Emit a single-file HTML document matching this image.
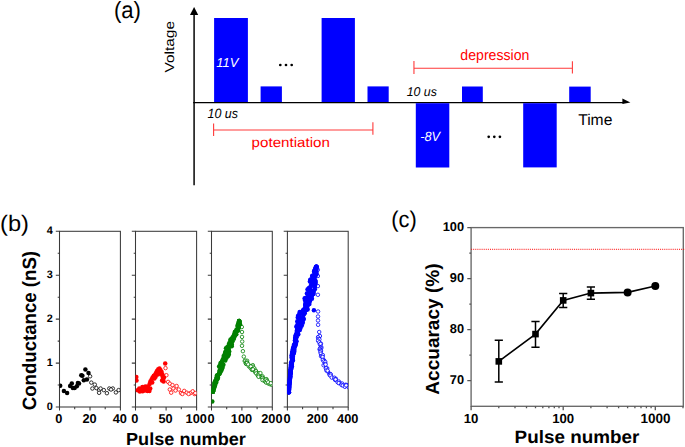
<!DOCTYPE html>
<html><head><meta charset="utf-8"><style>
html,body{margin:0;padding:0;background:#fff;width:685px;height:447px;overflow:hidden;font-family:"Liberation Sans",sans-serif;}
svg{display:block;}
</style></head><body>
<svg width="685" height="447" viewBox="0 0 685 447" text-rendering="geometricPrecision"><text id="t1" x="113.96" y="17.91" font-size="23.52" font-family="Liberation Sans, sans-serif" text-anchor="start" font-weight="normal" font-style="normal" fill="#000" textLength="27.03" lengthAdjust="spacingAndGlyphs">(a)</text>
<text id="t2" x="173.54" y="72.42" font-size="13.11" font-family="Liberation Sans, sans-serif" text-anchor="start" font-weight="normal" font-style="normal" fill="#000" textLength="51.41" lengthAdjust="spacingAndGlyphs" transform="rotate(-90 173.54 72.42)">Voltage</text>
<line x1="194.1" y1="185.2" x2="194.1" y2="13" stroke="#222" stroke-width="1.7"/>
<path d="M194.1 6.9 L198.2 14.9 L190 14.9 Z" fill="#000"/>
<line x1="193.2" y1="102.6" x2="624" y2="102.6" stroke="#000" stroke-width="1.4"/>
<path d="M630.4 102.6 L622.4 98.5 L622.4 104.1 Z" fill="#000"/>
<rect x="214.1" y="18" width="33.8" height="84.0" fill="#0000ff"/>
<rect x="260.6" y="86.4" width="21.3" height="15.6" fill="#0000ff"/>
<rect x="321.6" y="18" width="33.3" height="84.0" fill="#0000ff"/>
<rect x="367.5" y="86.4" width="21.2" height="15.6" fill="#0000ff"/>
<rect x="462" y="86.5" width="20.8" height="15.5" fill="#0000ff"/>
<rect x="569.2" y="86.6" width="21.5" height="15.4" fill="#0000ff"/>
<rect x="415.8" y="103.2" width="33.5" height="64.3" fill="#0000ff"/>
<rect x="523.2" y="103.2" width="33.5" height="64.2" fill="#0000ff"/>
<text id="t3" x="216.18" y="66.64" font-size="12.97" font-family="Liberation Sans, sans-serif" text-anchor="start" font-weight="normal" font-style="italic" fill="#fff" textLength="22.16" lengthAdjust="spacingAndGlyphs">11V</text>
<text id="t4" x="420.3" y="140.6" font-size="13.42" font-family="Liberation Sans, sans-serif" text-anchor="start" font-weight="normal" font-style="italic" fill="#fff" textLength="19.83" lengthAdjust="spacingAndGlyphs">-8V</text>
<circle cx="280.3" cy="65" r="1.35" fill="#000"/>
<circle cx="286" cy="65" r="1.35" fill="#000"/>
<circle cx="291.7" cy="65" r="1.35" fill="#000"/>
<circle cx="488.7" cy="136.8" r="1.35" fill="#000"/>
<circle cx="494.3" cy="136.8" r="1.35" fill="#000"/>
<circle cx="499.9" cy="136.8" r="1.35" fill="#000"/>
<text id="t5" x="207.56" y="117.79" font-size="13.48" font-family="Liberation Sans, sans-serif" text-anchor="start" font-weight="normal" font-style="italic" fill="#000" textLength="30.46" lengthAdjust="spacingAndGlyphs">10 us</text>
<text id="t6" x="406.63" y="95.56" font-size="12.78" font-family="Liberation Sans, sans-serif" text-anchor="start" font-weight="normal" font-style="italic" fill="#000" textLength="30.24" lengthAdjust="spacingAndGlyphs">10 us</text>
<path d="M213.6 130 H372.9 M213.6 123.4 V136 M372.9 122.2 V134.8" stroke="#ff3a3a" stroke-width="1.1" fill="none"/>
<path d="M413.95 68.3 H572.4 M413.95 61 V73.9 M572.4 61.2 V73.4" stroke="#ff3a3a" stroke-width="1.1" fill="none"/>
<text id="t7" x="251.64" y="147.47" font-size="13.73" font-family="Liberation Sans, sans-serif" text-anchor="start" font-weight="normal" font-style="normal" fill="#ff0000" textLength="78.22" lengthAdjust="spacingAndGlyphs">potentiation</text>
<text id="t8" x="460.37" y="60.1" font-size="14.82" font-family="Liberation Sans, sans-serif" text-anchor="start" font-weight="normal" font-style="normal" fill="#ff0000" textLength="69.02" lengthAdjust="spacingAndGlyphs">depression</text>
<text id="t9" x="578.18" y="124.86" font-size="15.66" font-family="Liberation Sans, sans-serif" text-anchor="start" font-weight="normal" font-style="normal" fill="#000" textLength="34.18" lengthAdjust="spacingAndGlyphs">Time</text>
<text id="t10" x="0.05" y="230.6" font-size="22.51" font-family="Liberation Sans, sans-serif" text-anchor="start" font-weight="normal" font-style="normal" fill="#000" textLength="28.93" lengthAdjust="spacingAndGlyphs">(b)</text>
<rect x="59.5" y="231.3" width="60.9" height="175.7" fill="none" stroke="#3a3a3a" stroke-width="1.05"/>
<path d="M55.8 407.0 H59.5 M57.7 385.0 H59.5 M55.8 363.1 H59.5 M57.7 341.1 H59.5 M55.8 319.1 H59.5 M57.7 297.2 H59.5 M55.8 275.2 H59.5 M57.7 253.3 H59.5 M55.8 231.3 H59.5 M59.5 407.0 V410.6 M74.7 407.0 V409.2 M90.0 407.0 V410.6 M105.2 407.0 V409.2 M120.4 407.0 V410.6 " stroke="#3a3a3a" stroke-width="1.05" fill="none"/>
<rect x="135.5" y="231.3" width="61.1" height="175.7" fill="none" stroke="#3a3a3a" stroke-width="1.05"/>
<path d="M131.8 407.0 H135.5 M133.7 385.0 H135.5 M131.8 363.1 H135.5 M133.7 341.1 H135.5 M131.8 319.1 H135.5 M133.7 297.2 H135.5 M131.8 275.2 H135.5 M133.7 253.3 H135.5 M131.8 231.3 H135.5 M135.5 407.0 V410.6 M150.8 407.0 V409.2 M166.1 407.0 V410.6 M181.3 407.0 V409.2 M196.6 407.0 V410.6 " stroke="#3a3a3a" stroke-width="1.05" fill="none"/>
<rect x="211.5" y="231.3" width="60.8" height="175.7" fill="none" stroke="#3a3a3a" stroke-width="1.05"/>
<path d="M207.8 407.0 H211.5 M209.7 385.0 H211.5 M207.8 363.1 H211.5 M209.7 341.1 H211.5 M207.8 319.1 H211.5 M209.7 297.2 H211.5 M207.8 275.2 H211.5 M209.7 253.3 H211.5 M207.8 231.3 H211.5 M211.5 407.0 V410.6 M226.7 407.0 V409.2 M241.9 407.0 V410.6 M257.1 407.0 V409.2 M272.3 407.0 V410.6 " stroke="#3a3a3a" stroke-width="1.05" fill="none"/>
<rect x="287.4" y="231.3" width="60.8" height="175.7" fill="none" stroke="#3a3a3a" stroke-width="1.05"/>
<path d="M283.7 407.0 H287.4 M285.59999999999997 385.0 H287.4 M283.7 363.1 H287.4 M285.59999999999997 341.1 H287.4 M283.7 319.1 H287.4 M285.59999999999997 297.2 H287.4 M283.7 275.2 H287.4 M285.59999999999997 253.3 H287.4 M283.7 231.3 H287.4 M287.4 407.0 V410.6 M302.6 407.0 V409.2 M317.8 407.0 V410.6 M333.0 407.0 V409.2 M348.2 407.0 V410.6 " stroke="#3a3a3a" stroke-width="1.05" fill="none"/>
<text id="t11" x="52.9" y="409.6" font-size="10.9" font-family="Liberation Sans, sans-serif" text-anchor="end" font-weight="bold" font-style="normal" fill="#000">0</text>
<text id="t12" x="52.9" y="365.675" font-size="10.9" font-family="Liberation Sans, sans-serif" text-anchor="end" font-weight="bold" font-style="normal" fill="#000">1</text>
<text id="t13" x="52.9" y="321.75" font-size="10.9" font-family="Liberation Sans, sans-serif" text-anchor="end" font-weight="bold" font-style="normal" fill="#000">2</text>
<text id="t14" x="52.9" y="277.82500000000005" font-size="10.9" font-family="Liberation Sans, sans-serif" text-anchor="end" font-weight="bold" font-style="normal" fill="#000">3</text>
<text id="t15" x="52.9" y="233.9" font-size="10.9" font-family="Liberation Sans, sans-serif" text-anchor="end" font-weight="bold" font-style="normal" fill="#000">4</text>
<text id="t16" x="58.9" y="423.3" font-size="12.8" font-family="Liberation Sans, sans-serif" text-anchor="middle" font-weight="bold" font-style="normal" fill="#000">0</text>
<text id="t17" x="89.5" y="423.3" font-size="12.8" font-family="Liberation Sans, sans-serif" text-anchor="middle" font-weight="bold" font-style="normal" fill="#000">20</text>
<text id="t18" x="119.8" y="423.3" font-size="12.8" font-family="Liberation Sans, sans-serif" text-anchor="middle" font-weight="bold" font-style="normal" fill="#000">40</text>
<text id="t19" x="134.9" y="423.3" font-size="12.8" font-family="Liberation Sans, sans-serif" text-anchor="middle" font-weight="bold" font-style="normal" fill="#000">0</text>
<text id="t20" x="165.5" y="423.3" font-size="12.8" font-family="Liberation Sans, sans-serif" text-anchor="middle" font-weight="bold" font-style="normal" fill="#000">50</text>
<text id="t21" x="196.2" y="423.3" font-size="12.8" font-family="Liberation Sans, sans-serif" text-anchor="middle" font-weight="bold" font-style="normal" fill="#000">100</text>
<text id="t22" x="211.0" y="423.3" font-size="12.8" font-family="Liberation Sans, sans-serif" text-anchor="middle" font-weight="bold" font-style="normal" fill="#000">0</text>
<text id="t23" x="241.5" y="423.3" font-size="12.8" font-family="Liberation Sans, sans-serif" text-anchor="middle" font-weight="bold" font-style="normal" fill="#000">100</text>
<text id="t24" x="271.90000000000003" y="423.3" font-size="12.8" font-family="Liberation Sans, sans-serif" text-anchor="middle" font-weight="bold" font-style="normal" fill="#000">200</text>
<text id="t25" x="287.0" y="423.3" font-size="12.8" font-family="Liberation Sans, sans-serif" text-anchor="middle" font-weight="bold" font-style="normal" fill="#000">0</text>
<text id="t26" x="317.40000000000003" y="423.3" font-size="12.8" font-family="Liberation Sans, sans-serif" text-anchor="middle" font-weight="bold" font-style="normal" fill="#000">200</text>
<text id="t27" x="347.8" y="423.3" font-size="12.8" font-family="Liberation Sans, sans-serif" text-anchor="middle" font-weight="bold" font-style="normal" fill="#000">400</text>
<text id="t28" x="35.52" y="410.19" font-size="19.24" font-family="Liberation Sans, sans-serif" text-anchor="start" font-weight="bold" font-style="normal" fill="#000" textLength="159.2" lengthAdjust="spacingAndGlyphs" transform="rotate(-90 35.52 410.19)">Conductance (nS)</text>
<text id="t29" x="126.04" y="445.32" font-size="17.44" font-family="Liberation Sans, sans-serif" text-anchor="start" font-weight="bold" font-style="normal" fill="#000" textLength="119.85" lengthAdjust="spacingAndGlyphs">Pulse number</text>
<clipPath id="cp0"><rect x="59.5" y="231.3" width="60.9" height="175.7"/></clipPath><g clip-path="url(#cp0)">
<circle cx="90.1" cy="376.3" r="1.75" fill="#fff" stroke="#000" stroke-width="0.8"/>
<circle cx="91.3" cy="382.6" r="1.75" fill="#fff" stroke="#000" stroke-width="0.8"/>
<circle cx="94.8" cy="384.6" r="1.75" fill="#fff" stroke="#000" stroke-width="0.8"/>
<circle cx="92.4" cy="388.5" r="1.75" fill="#fff" stroke="#000" stroke-width="0.8"/>
<circle cx="96.4" cy="388.1" r="1.75" fill="#fff" stroke="#000" stroke-width="0.8"/>
<circle cx="99.1" cy="390.1" r="1.75" fill="#fff" stroke="#000" stroke-width="0.8"/>
<circle cx="100.6" cy="388.5" r="1.75" fill="#fff" stroke="#000" stroke-width="0.8"/>
<circle cx="103.8" cy="390.1" r="1.75" fill="#fff" stroke="#000" stroke-width="0.8"/>
<circle cx="99.1" cy="392.8" r="1.75" fill="#fff" stroke="#000" stroke-width="0.8"/>
<circle cx="106.9" cy="393.2" r="1.75" fill="#fff" stroke="#000" stroke-width="0.8"/>
<circle cx="109.3" cy="388.5" r="1.75" fill="#fff" stroke="#000" stroke-width="0.8"/>
<circle cx="112.8" cy="388.5" r="1.75" fill="#fff" stroke="#000" stroke-width="0.8"/>
<circle cx="115.9" cy="392.4" r="1.75" fill="#fff" stroke="#000" stroke-width="0.8"/>
<circle cx="118.6" cy="390.1" r="1.75" fill="#fff" stroke="#000" stroke-width="0.8"/>
<circle cx="111.0" cy="389.5" r="1.75" fill="#fff" stroke="#000" stroke-width="0.8"/>
<circle cx="60.2" cy="385.8" r="2.25" fill="#000"/>
<circle cx="63.9" cy="391.1" r="2.25" fill="#000"/>
<circle cx="67.1" cy="393.0" r="2.25" fill="#000"/>
<circle cx="70.1" cy="386.0" r="2.25" fill="#000"/>
<circle cx="71.8" cy="383.5" r="2.25" fill="#000"/>
<circle cx="72.9" cy="388.0" r="2.25" fill="#000"/>
<circle cx="74.6" cy="388.0" r="2.25" fill="#000"/>
<circle cx="76.8" cy="386.3" r="2.25" fill="#000"/>
<circle cx="77.9" cy="383.0" r="2.25" fill="#000"/>
<circle cx="79.0" cy="383.5" r="2.25" fill="#000"/>
<circle cx="81.3" cy="375.2" r="2.25" fill="#000"/>
<circle cx="82.4" cy="375.7" r="2.25" fill="#000"/>
<circle cx="83.8" cy="380.2" r="2.25" fill="#000"/>
<circle cx="85.4" cy="369.6" r="2.25" fill="#000"/>
<circle cx="86.9" cy="379.6" r="2.25" fill="#000"/>
<circle cx="88.5" cy="372.9" r="2.25" fill="#000"/>
</g>
<clipPath id="cp1"><rect x="135.5" y="231.3" width="61.1" height="175.7"/></clipPath><g clip-path="url(#cp1)">
<circle cx="165.5" cy="368.1" r="1.75" fill="#fff" stroke="#ff0000" stroke-width="0.8"/>
<circle cx="166.4" cy="375.2" r="1.75" fill="#fff" stroke="#ff0000" stroke-width="0.8"/>
<circle cx="168.1" cy="381.9" r="1.75" fill="#fff" stroke="#ff0000" stroke-width="0.8"/>
<circle cx="169.8" cy="383.7" r="1.75" fill="#fff" stroke="#ff0000" stroke-width="0.8"/>
<circle cx="172.5" cy="385.1" r="1.75" fill="#fff" stroke="#ff0000" stroke-width="0.8"/>
<circle cx="176.6" cy="386.0" r="1.75" fill="#fff" stroke="#ff0000" stroke-width="0.8"/>
<circle cx="169.8" cy="389.5" r="1.75" fill="#fff" stroke="#ff0000" stroke-width="0.8"/>
<circle cx="171.2" cy="392.7" r="1.75" fill="#fff" stroke="#ff0000" stroke-width="0.8"/>
<circle cx="173.4" cy="388.6" r="1.75" fill="#fff" stroke="#ff0000" stroke-width="0.8"/>
<circle cx="178.8" cy="389.5" r="1.75" fill="#fff" stroke="#ff0000" stroke-width="0.8"/>
<circle cx="181.0" cy="393.1" r="1.75" fill="#fff" stroke="#ff0000" stroke-width="0.8"/>
<circle cx="184.2" cy="390.9" r="1.75" fill="#fff" stroke="#ff0000" stroke-width="0.8"/>
<circle cx="186.8" cy="392.7" r="1.75" fill="#fff" stroke="#ff0000" stroke-width="0.8"/>
<circle cx="190.4" cy="393.1" r="1.75" fill="#fff" stroke="#ff0000" stroke-width="0.8"/>
<circle cx="192.7" cy="391.3" r="1.75" fill="#fff" stroke="#ff0000" stroke-width="0.8"/>
<circle cx="194.5" cy="394.0" r="1.75" fill="#fff" stroke="#ff0000" stroke-width="0.8"/>
<circle cx="195.3" cy="393.1" r="1.75" fill="#fff" stroke="#ff0000" stroke-width="0.8"/>
<circle cx="182.4" cy="394.0" r="1.75" fill="#fff" stroke="#ff0000" stroke-width="0.8"/>
<circle cx="188.6" cy="394.0" r="1.75" fill="#fff" stroke="#ff0000" stroke-width="0.8"/>
<circle cx="175.5" cy="390.5" r="1.75" fill="#fff" stroke="#ff0000" stroke-width="0.8"/>
<circle cx="136.3" cy="377.0" r="2.25" fill="#ff0000"/>
<circle cx="136.5" cy="380.5" r="2.25" fill="#ff0000"/>
<circle cx="137.6" cy="390.3" r="2.25" fill="#ff0000"/>
<circle cx="139.3" cy="388.6" r="2.25" fill="#ff0000"/>
<circle cx="139.8" cy="391.4" r="2.25" fill="#ff0000"/>
<circle cx="141.2" cy="389.3" r="2.25" fill="#ff0000"/>
<circle cx="142.6" cy="391.2" r="2.25" fill="#ff0000"/>
<circle cx="143.5" cy="388.0" r="2.25" fill="#ff0000"/>
<circle cx="144.6" cy="390.6" r="2.25" fill="#ff0000"/>
<circle cx="146.0" cy="389.0" r="2.25" fill="#ff0000"/>
<circle cx="147.4" cy="391.0" r="2.25" fill="#ff0000"/>
<circle cx="148.6" cy="389.2" r="2.25" fill="#ff0000"/>
<circle cx="149.4" cy="391.0" r="2.25" fill="#ff0000"/>
<circle cx="142.4" cy="387.0" r="2.25" fill="#ff0000"/>
<circle cx="145.4" cy="386.6" r="2.25" fill="#ff0000"/>
<circle cx="147.8" cy="386.6" r="2.25" fill="#ff0000"/>
<circle cx="150.2" cy="388.4" r="2.25" fill="#ff0000"/>
<circle cx="149.6" cy="384.0" r="2.25" fill="#ff0000"/>
<circle cx="150.4" cy="381.6" r="2.25" fill="#ff0000"/>
<circle cx="151.6" cy="379.6" r="2.25" fill="#ff0000"/>
<circle cx="152.2" cy="382.4" r="2.25" fill="#ff0000"/>
<circle cx="152.6" cy="377.4" r="2.25" fill="#ff0000"/>
<circle cx="153.8" cy="375.8" r="2.25" fill="#ff0000"/>
<circle cx="154.4" cy="378.6" r="2.25" fill="#ff0000"/>
<circle cx="155.2" cy="374.4" r="2.25" fill="#ff0000"/>
<circle cx="156.2" cy="372.6" r="2.25" fill="#ff0000"/>
<circle cx="155.6" cy="376.8" r="2.25" fill="#ff0000"/>
<circle cx="157.2" cy="370.8" r="2.25" fill="#ff0000"/>
<circle cx="157.8" cy="374.4" r="2.25" fill="#ff0000"/>
<circle cx="158.3" cy="369.2" r="2.25" fill="#ff0000"/>
<circle cx="159.5" cy="368.6" r="2.25" fill="#ff0000"/>
<circle cx="160.6" cy="370.2" r="2.25" fill="#ff0000"/>
<circle cx="161.6" cy="372.0" r="2.25" fill="#ff0000"/>
<circle cx="158.8" cy="372.4" r="2.25" fill="#ff0000"/>
<circle cx="160.2" cy="373.8" r="2.25" fill="#ff0000"/>
<circle cx="162.4" cy="374.4" r="2.25" fill="#ff0000"/>
<circle cx="162.6" cy="376.6" r="2.25" fill="#ff0000"/>
<circle cx="163.1" cy="379.0" r="2.25" fill="#ff0000"/>
<circle cx="163.6" cy="381.4" r="2.25" fill="#ff0000"/>
<circle cx="162.1" cy="380.4" r="2.25" fill="#ff0000"/>
<circle cx="163.9" cy="377.6" r="2.25" fill="#ff0000"/>
<circle cx="165.2" cy="363.6" r="2.25" fill="#ff0000"/>
</g>
<clipPath id="cp2"><rect x="211.5" y="231.3" width="60.8" height="175.7"/></clipPath><g clip-path="url(#cp2)">
<circle cx="241.8" cy="327.0" r="1.75" fill="#fff" stroke="#008000" stroke-width="0.8"/>
<circle cx="242.0" cy="332.0" r="1.75" fill="#fff" stroke="#008000" stroke-width="0.8"/>
<circle cx="242.0" cy="336.9" r="1.75" fill="#fff" stroke="#008000" stroke-width="0.8"/>
<circle cx="242.2" cy="341.5" r="1.75" fill="#fff" stroke="#008000" stroke-width="0.8"/>
<circle cx="242.0" cy="345.8" r="1.75" fill="#fff" stroke="#008000" stroke-width="0.8"/>
<circle cx="242.9" cy="351.2" r="1.75" fill="#fff" stroke="#008000" stroke-width="0.8"/>
<circle cx="243.8" cy="356.6" r="1.75" fill="#fff" stroke="#008000" stroke-width="0.8"/>
<circle cx="244.7" cy="361.0" r="1.75" fill="#fff" stroke="#008000" stroke-width="0.8"/>
<circle cx="246.0" cy="363.5" r="1.75" fill="#fff" stroke="#008000" stroke-width="0.8"/>
<circle cx="245.4" cy="360.6" r="1.75" fill="#fff" stroke="#008000" stroke-width="0.8"/>
<circle cx="247.1" cy="360.8" r="1.75" fill="#fff" stroke="#008000" stroke-width="0.8"/>
<circle cx="247.1" cy="362.5" r="1.75" fill="#fff" stroke="#008000" stroke-width="0.8"/>
<circle cx="245.9" cy="363.5" r="1.75" fill="#fff" stroke="#008000" stroke-width="0.8"/>
<circle cx="246.4" cy="363.8" r="1.75" fill="#fff" stroke="#008000" stroke-width="0.8"/>
<circle cx="247.0" cy="362.9" r="1.75" fill="#fff" stroke="#008000" stroke-width="0.8"/>
<circle cx="248.8" cy="366.3" r="1.75" fill="#fff" stroke="#008000" stroke-width="0.8"/>
<circle cx="248.2" cy="364.4" r="1.75" fill="#fff" stroke="#008000" stroke-width="0.8"/>
<circle cx="250.5" cy="367.8" r="1.75" fill="#fff" stroke="#008000" stroke-width="0.8"/>
<circle cx="250.9" cy="366.1" r="1.75" fill="#fff" stroke="#008000" stroke-width="0.8"/>
<circle cx="252.8" cy="365.2" r="1.75" fill="#fff" stroke="#008000" stroke-width="0.8"/>
<circle cx="252.9" cy="366.7" r="1.75" fill="#fff" stroke="#008000" stroke-width="0.8"/>
<circle cx="250.8" cy="366.5" r="1.75" fill="#fff" stroke="#008000" stroke-width="0.8"/>
<circle cx="251.9" cy="369.8" r="1.75" fill="#fff" stroke="#008000" stroke-width="0.8"/>
<circle cx="252.0" cy="369.4" r="1.75" fill="#fff" stroke="#008000" stroke-width="0.8"/>
<circle cx="254.1" cy="369.1" r="1.75" fill="#fff" stroke="#008000" stroke-width="0.8"/>
<circle cx="254.3" cy="368.3" r="1.75" fill="#fff" stroke="#008000" stroke-width="0.8"/>
<circle cx="253.0" cy="369.4" r="1.75" fill="#fff" stroke="#008000" stroke-width="0.8"/>
<circle cx="255.8" cy="370.8" r="1.75" fill="#fff" stroke="#008000" stroke-width="0.8"/>
<circle cx="255.0" cy="372.0" r="1.75" fill="#fff" stroke="#008000" stroke-width="0.8"/>
<circle cx="256.0" cy="371.3" r="1.75" fill="#fff" stroke="#008000" stroke-width="0.8"/>
<circle cx="257.7" cy="373.4" r="1.75" fill="#fff" stroke="#008000" stroke-width="0.8"/>
<circle cx="256.2" cy="373.4" r="1.75" fill="#fff" stroke="#008000" stroke-width="0.8"/>
<circle cx="257.7" cy="375.2" r="1.75" fill="#fff" stroke="#008000" stroke-width="0.8"/>
<circle cx="259.0" cy="373.3" r="1.75" fill="#fff" stroke="#008000" stroke-width="0.8"/>
<circle cx="260.4" cy="373.1" r="1.75" fill="#fff" stroke="#008000" stroke-width="0.8"/>
<circle cx="258.9" cy="376.2" r="1.75" fill="#fff" stroke="#008000" stroke-width="0.8"/>
<circle cx="258.5" cy="375.6" r="1.75" fill="#fff" stroke="#008000" stroke-width="0.8"/>
<circle cx="258.6" cy="376.8" r="1.75" fill="#fff" stroke="#008000" stroke-width="0.8"/>
<circle cx="261.7" cy="376.9" r="1.75" fill="#fff" stroke="#008000" stroke-width="0.8"/>
<circle cx="262.6" cy="376.4" r="1.75" fill="#fff" stroke="#008000" stroke-width="0.8"/>
<circle cx="262.5" cy="378.0" r="1.75" fill="#fff" stroke="#008000" stroke-width="0.8"/>
<circle cx="262.6" cy="377.9" r="1.75" fill="#fff" stroke="#008000" stroke-width="0.8"/>
<circle cx="264.1" cy="380.3" r="1.75" fill="#fff" stroke="#008000" stroke-width="0.8"/>
<circle cx="263.4" cy="379.5" r="1.75" fill="#fff" stroke="#008000" stroke-width="0.8"/>
<circle cx="262.5" cy="380.1" r="1.75" fill="#fff" stroke="#008000" stroke-width="0.8"/>
<circle cx="265.3" cy="381.6" r="1.75" fill="#fff" stroke="#008000" stroke-width="0.8"/>
<circle cx="266.5" cy="379.2" r="1.75" fill="#fff" stroke="#008000" stroke-width="0.8"/>
<circle cx="265.5" cy="381.1" r="1.75" fill="#fff" stroke="#008000" stroke-width="0.8"/>
<circle cx="264.8" cy="380.6" r="1.75" fill="#fff" stroke="#008000" stroke-width="0.8"/>
<circle cx="266.0" cy="379.6" r="1.75" fill="#fff" stroke="#008000" stroke-width="0.8"/>
<circle cx="266.2" cy="382.6" r="1.75" fill="#fff" stroke="#008000" stroke-width="0.8"/>
<circle cx="267.1" cy="380.9" r="1.75" fill="#fff" stroke="#008000" stroke-width="0.8"/>
<circle cx="268.6" cy="383.7" r="1.75" fill="#fff" stroke="#008000" stroke-width="0.8"/>
<circle cx="268.2" cy="382.3" r="1.75" fill="#fff" stroke="#008000" stroke-width="0.8"/>
<circle cx="270.5" cy="384.4" r="1.75" fill="#fff" stroke="#008000" stroke-width="0.8"/>
<circle cx="272.1" cy="384.6" r="1.75" fill="#fff" stroke="#008000" stroke-width="0.8"/>
<circle cx="270.8" cy="383.2" r="1.75" fill="#fff" stroke="#008000" stroke-width="0.8"/>
<circle cx="212.3" cy="401.4" r="2.25" fill="#008000"/>
<circle cx="239.2" cy="320.9" r="2.25" fill="#008000"/>
<circle cx="239.1" cy="320.9" r="2.25" fill="#008000"/>
<circle cx="239.2" cy="320.9" r="2.25" fill="#008000"/>
<circle cx="239.1" cy="320.9" r="2.25" fill="#008000"/>
<circle cx="239.5" cy="321.5" r="2.25" fill="#008000"/>
<circle cx="238.8" cy="321.8" r="2.25" fill="#008000"/>
<circle cx="239.6" cy="322.4" r="2.25" fill="#008000"/>
<circle cx="238.2" cy="323.4" r="2.25" fill="#008000"/>
<circle cx="240.0" cy="324.2" r="2.25" fill="#008000"/>
<circle cx="239.3" cy="324.7" r="2.25" fill="#008000"/>
<circle cx="237.9" cy="325.0" r="2.25" fill="#008000"/>
<circle cx="237.6" cy="325.8" r="2.25" fill="#008000"/>
<circle cx="237.9" cy="326.3" r="2.25" fill="#008000"/>
<circle cx="238.2" cy="326.8" r="2.25" fill="#008000"/>
<circle cx="238.8" cy="327.7" r="2.25" fill="#008000"/>
<circle cx="238.0" cy="328.4" r="2.25" fill="#008000"/>
<circle cx="237.8" cy="329.0" r="2.25" fill="#008000"/>
<circle cx="236.5" cy="329.6" r="2.25" fill="#008000"/>
<circle cx="238.1" cy="330.5" r="2.25" fill="#008000"/>
<circle cx="237.1" cy="331.1" r="2.25" fill="#008000"/>
<circle cx="235.6" cy="331.4" r="2.25" fill="#008000"/>
<circle cx="234.8" cy="332.0" r="2.25" fill="#008000"/>
<circle cx="235.4" cy="332.9" r="2.25" fill="#008000"/>
<circle cx="235.1" cy="333.6" r="2.25" fill="#008000"/>
<circle cx="236.3" cy="334.3" r="2.25" fill="#008000"/>
<circle cx="234.2" cy="334.3" r="2.25" fill="#008000"/>
<circle cx="234.5" cy="335.5" r="2.25" fill="#008000"/>
<circle cx="233.8" cy="336.2" r="2.25" fill="#008000"/>
<circle cx="234.7" cy="336.2" r="2.25" fill="#008000"/>
<circle cx="232.7" cy="337.3" r="2.25" fill="#008000"/>
<circle cx="232.8" cy="337.5" r="2.25" fill="#008000"/>
<circle cx="233.9" cy="338.7" r="2.25" fill="#008000"/>
<circle cx="231.8" cy="338.8" r="2.25" fill="#008000"/>
<circle cx="230.6" cy="339.4" r="2.25" fill="#008000"/>
<circle cx="230.5" cy="340.5" r="2.25" fill="#008000"/>
<circle cx="231.4" cy="340.9" r="2.25" fill="#008000"/>
<circle cx="232.5" cy="341.3" r="2.25" fill="#008000"/>
<circle cx="231.8" cy="341.9" r="2.25" fill="#008000"/>
<circle cx="230.4" cy="342.5" r="2.25" fill="#008000"/>
<circle cx="229.2" cy="343.2" r="2.25" fill="#008000"/>
<circle cx="231.4" cy="344.3" r="2.25" fill="#008000"/>
<circle cx="231.8" cy="344.6" r="2.25" fill="#008000"/>
<circle cx="228.8" cy="345.1" r="2.25" fill="#008000"/>
<circle cx="229.8" cy="346.2" r="2.25" fill="#008000"/>
<circle cx="231.7" cy="346.3" r="2.25" fill="#008000"/>
<circle cx="227.4" cy="347.0" r="2.25" fill="#008000"/>
<circle cx="227.5" cy="348.0" r="2.25" fill="#008000"/>
<circle cx="226.0" cy="348.3" r="2.25" fill="#008000"/>
<circle cx="228.6" cy="348.8" r="2.25" fill="#008000"/>
<circle cx="228.5" cy="349.5" r="2.25" fill="#008000"/>
<circle cx="227.4" cy="350.3" r="2.25" fill="#008000"/>
<circle cx="227.3" cy="351.2" r="2.25" fill="#008000"/>
<circle cx="229.2" cy="351.6" r="2.25" fill="#008000"/>
<circle cx="225.3" cy="352.0" r="2.25" fill="#008000"/>
<circle cx="228.4" cy="353.1" r="2.25" fill="#008000"/>
<circle cx="225.0" cy="353.3" r="2.25" fill="#008000"/>
<circle cx="228.7" cy="354.3" r="2.25" fill="#008000"/>
<circle cx="228.6" cy="354.5" r="2.25" fill="#008000"/>
<circle cx="226.4" cy="355.6" r="2.25" fill="#008000"/>
<circle cx="223.7" cy="355.9" r="2.25" fill="#008000"/>
<circle cx="227.9" cy="356.3" r="2.25" fill="#008000"/>
<circle cx="226.2" cy="357.1" r="2.25" fill="#008000"/>
<circle cx="226.5" cy="357.7" r="2.25" fill="#008000"/>
<circle cx="223.5" cy="358.6" r="2.25" fill="#008000"/>
<circle cx="225.4" cy="358.9" r="2.25" fill="#008000"/>
<circle cx="222.8" cy="359.5" r="2.25" fill="#008000"/>
<circle cx="225.3" cy="360.4" r="2.25" fill="#008000"/>
<circle cx="222.4" cy="361.1" r="2.25" fill="#008000"/>
<circle cx="221.7" cy="361.9" r="2.25" fill="#008000"/>
<circle cx="222.0" cy="362.0" r="2.25" fill="#008000"/>
<circle cx="220.6" cy="362.9" r="2.25" fill="#008000"/>
<circle cx="221.8" cy="363.3" r="2.25" fill="#008000"/>
<circle cx="220.4" cy="364.2" r="2.25" fill="#008000"/>
<circle cx="223.4" cy="364.7" r="2.25" fill="#008000"/>
<circle cx="222.0" cy="365.7" r="2.25" fill="#008000"/>
<circle cx="221.5" cy="366.2" r="2.25" fill="#008000"/>
<circle cx="219.1" cy="366.4" r="2.25" fill="#008000"/>
<circle cx="222.5" cy="367.0" r="2.25" fill="#008000"/>
<circle cx="222.3" cy="368.1" r="2.25" fill="#008000"/>
<circle cx="220.9" cy="368.3" r="2.25" fill="#008000"/>
<circle cx="220.9" cy="369.2" r="2.25" fill="#008000"/>
<circle cx="221.7" cy="369.7" r="2.25" fill="#008000"/>
<circle cx="219.7" cy="370.2" r="2.25" fill="#008000"/>
<circle cx="220.7" cy="371.2" r="2.25" fill="#008000"/>
<circle cx="219.6" cy="371.8" r="2.25" fill="#008000"/>
<circle cx="220.2" cy="372.5" r="2.25" fill="#008000"/>
<circle cx="219.2" cy="372.9" r="2.25" fill="#008000"/>
<circle cx="219.5" cy="373.8" r="2.25" fill="#008000"/>
<circle cx="219.0" cy="374.2" r="2.25" fill="#008000"/>
<circle cx="217.8" cy="375.1" r="2.25" fill="#008000"/>
<circle cx="216.9" cy="375.5" r="2.25" fill="#008000"/>
<circle cx="217.6" cy="376.1" r="2.25" fill="#008000"/>
<circle cx="217.6" cy="376.5" r="2.25" fill="#008000"/>
<circle cx="218.0" cy="377.7" r="2.25" fill="#008000"/>
<circle cx="216.3" cy="378.1" r="2.25" fill="#008000"/>
<circle cx="216.7" cy="378.8" r="2.25" fill="#008000"/>
<circle cx="217.3" cy="379.2" r="2.25" fill="#008000"/>
<circle cx="216.9" cy="379.6" r="2.25" fill="#008000"/>
<circle cx="216.3" cy="380.2" r="2.25" fill="#008000"/>
<circle cx="215.1" cy="381.1" r="2.25" fill="#008000"/>
<circle cx="215.5" cy="381.9" r="2.25" fill="#008000"/>
<circle cx="216.2" cy="382.4" r="2.25" fill="#008000"/>
<circle cx="214.3" cy="382.9" r="2.25" fill="#008000"/>
<circle cx="215.4" cy="383.5" r="2.25" fill="#008000"/>
<circle cx="214.4" cy="384.1" r="2.25" fill="#008000"/>
<circle cx="214.8" cy="385.1" r="2.25" fill="#008000"/>
<circle cx="215.0" cy="385.5" r="2.25" fill="#008000"/>
<circle cx="214.5" cy="386.0" r="2.25" fill="#008000"/>
<circle cx="214.2" cy="386.6" r="2.25" fill="#008000"/>
<circle cx="214.2" cy="387.6" r="2.25" fill="#008000"/>
<circle cx="213.8" cy="388.3" r="2.25" fill="#008000"/>
<circle cx="213.7" cy="388.7" r="2.25" fill="#008000"/>
<circle cx="213.6" cy="389.1" r="2.25" fill="#008000"/>
<circle cx="213.3" cy="390.1" r="2.25" fill="#008000"/>
<circle cx="213.2" cy="390.8" r="2.25" fill="#008000"/>
<circle cx="213.0" cy="391.3" r="2.25" fill="#008000"/>
<circle cx="212.9" cy="391.7" r="2.25" fill="#008000"/>
<circle cx="212.9" cy="391.7" r="2.25" fill="#008000"/>
<circle cx="212.9" cy="391.7" r="2.25" fill="#008000"/>
<circle cx="212.8" cy="391.7" r="2.25" fill="#008000"/>
</g>
<clipPath id="cp3"><rect x="287.4" y="231.3" width="60.8" height="175.7"/></clipPath><g clip-path="url(#cp3)">
<circle cx="317.8" cy="269.8" r="1.75" fill="#fff" stroke="#0000ff" stroke-width="0.8"/>
<circle cx="317.9" cy="276.0" r="1.75" fill="#fff" stroke="#0000ff" stroke-width="0.8"/>
<circle cx="317.9" cy="286.1" r="1.75" fill="#fff" stroke="#0000ff" stroke-width="0.8"/>
<circle cx="317.9" cy="294.8" r="1.75" fill="#fff" stroke="#0000ff" stroke-width="0.8"/>
<circle cx="318.1" cy="311.5" r="1.75" fill="#fff" stroke="#0000ff" stroke-width="0.8"/>
<circle cx="318.0" cy="316.5" r="1.75" fill="#fff" stroke="#0000ff" stroke-width="0.8"/>
<circle cx="318.0" cy="320.5" r="1.75" fill="#fff" stroke="#0000ff" stroke-width="0.8"/>
<circle cx="318.1" cy="324.8" r="1.75" fill="#fff" stroke="#0000ff" stroke-width="0.8"/>
<circle cx="319.2" cy="332.0" r="1.75" fill="#fff" stroke="#0000ff" stroke-width="0.8"/>
<circle cx="319.2" cy="336.5" r="1.75" fill="#fff" stroke="#0000ff" stroke-width="0.8"/>
<circle cx="318.2" cy="337.1" r="1.75" fill="#fff" stroke="#0000ff" stroke-width="0.8"/>
<circle cx="319.9" cy="336.0" r="1.75" fill="#fff" stroke="#0000ff" stroke-width="0.8"/>
<circle cx="318.1" cy="337.3" r="1.75" fill="#fff" stroke="#0000ff" stroke-width="0.8"/>
<circle cx="318.4" cy="339.0" r="1.75" fill="#fff" stroke="#0000ff" stroke-width="0.8"/>
<circle cx="319.4" cy="339.4" r="1.75" fill="#fff" stroke="#0000ff" stroke-width="0.8"/>
<circle cx="318.1" cy="340.8" r="1.75" fill="#fff" stroke="#0000ff" stroke-width="0.8"/>
<circle cx="319.2" cy="342.3" r="1.75" fill="#fff" stroke="#0000ff" stroke-width="0.8"/>
<circle cx="320.9" cy="343.6" r="1.75" fill="#fff" stroke="#0000ff" stroke-width="0.8"/>
<circle cx="319.9" cy="344.4" r="1.75" fill="#fff" stroke="#0000ff" stroke-width="0.8"/>
<circle cx="320.5" cy="343.9" r="1.75" fill="#fff" stroke="#0000ff" stroke-width="0.8"/>
<circle cx="321.2" cy="346.9" r="1.75" fill="#fff" stroke="#0000ff" stroke-width="0.8"/>
<circle cx="321.3" cy="348.0" r="1.75" fill="#fff" stroke="#0000ff" stroke-width="0.8"/>
<circle cx="320.3" cy="347.9" r="1.75" fill="#fff" stroke="#0000ff" stroke-width="0.8"/>
<circle cx="319.7" cy="349.5" r="1.75" fill="#fff" stroke="#0000ff" stroke-width="0.8"/>
<circle cx="319.9" cy="348.9" r="1.75" fill="#fff" stroke="#0000ff" stroke-width="0.8"/>
<circle cx="320.5" cy="350.2" r="1.75" fill="#fff" stroke="#0000ff" stroke-width="0.8"/>
<circle cx="321.0" cy="350.9" r="1.75" fill="#fff" stroke="#0000ff" stroke-width="0.8"/>
<circle cx="320.4" cy="352.2" r="1.75" fill="#fff" stroke="#0000ff" stroke-width="0.8"/>
<circle cx="320.9" cy="353.7" r="1.75" fill="#fff" stroke="#0000ff" stroke-width="0.8"/>
<circle cx="321.0" cy="356.2" r="1.75" fill="#fff" stroke="#0000ff" stroke-width="0.8"/>
<circle cx="322.8" cy="355.1" r="1.75" fill="#fff" stroke="#0000ff" stroke-width="0.8"/>
<circle cx="322.1" cy="356.7" r="1.75" fill="#fff" stroke="#0000ff" stroke-width="0.8"/>
<circle cx="322.6" cy="357.0" r="1.75" fill="#fff" stroke="#0000ff" stroke-width="0.8"/>
<circle cx="324.2" cy="360.5" r="1.75" fill="#fff" stroke="#0000ff" stroke-width="0.8"/>
<circle cx="323.4" cy="360.0" r="1.75" fill="#fff" stroke="#0000ff" stroke-width="0.8"/>
<circle cx="322.8" cy="359.9" r="1.75" fill="#fff" stroke="#0000ff" stroke-width="0.8"/>
<circle cx="323.8" cy="361.4" r="1.75" fill="#fff" stroke="#0000ff" stroke-width="0.8"/>
<circle cx="325.3" cy="362.0" r="1.75" fill="#fff" stroke="#0000ff" stroke-width="0.8"/>
<circle cx="323.6" cy="365.2" r="1.75" fill="#fff" stroke="#0000ff" stroke-width="0.8"/>
<circle cx="325.2" cy="363.9" r="1.75" fill="#fff" stroke="#0000ff" stroke-width="0.8"/>
<circle cx="325.6" cy="364.6" r="1.75" fill="#fff" stroke="#0000ff" stroke-width="0.8"/>
<circle cx="325.9" cy="368.2" r="1.75" fill="#fff" stroke="#0000ff" stroke-width="0.8"/>
<circle cx="327.2" cy="368.3" r="1.75" fill="#fff" stroke="#0000ff" stroke-width="0.8"/>
<circle cx="326.1" cy="368.3" r="1.75" fill="#fff" stroke="#0000ff" stroke-width="0.8"/>
<circle cx="326.3" cy="370.4" r="1.75" fill="#fff" stroke="#0000ff" stroke-width="0.8"/>
<circle cx="327.6" cy="371.4" r="1.75" fill="#fff" stroke="#0000ff" stroke-width="0.8"/>
<circle cx="327.6" cy="370.7" r="1.75" fill="#fff" stroke="#0000ff" stroke-width="0.8"/>
<circle cx="329.4" cy="373.7" r="1.75" fill="#fff" stroke="#0000ff" stroke-width="0.8"/>
<circle cx="330.1" cy="374.0" r="1.75" fill="#fff" stroke="#0000ff" stroke-width="0.8"/>
<circle cx="330.5" cy="374.7" r="1.75" fill="#fff" stroke="#0000ff" stroke-width="0.8"/>
<circle cx="329.6" cy="374.9" r="1.75" fill="#fff" stroke="#0000ff" stroke-width="0.8"/>
<circle cx="330.7" cy="374.3" r="1.75" fill="#fff" stroke="#0000ff" stroke-width="0.8"/>
<circle cx="330.5" cy="375.7" r="1.75" fill="#fff" stroke="#0000ff" stroke-width="0.8"/>
<circle cx="331.8" cy="377.6" r="1.75" fill="#fff" stroke="#0000ff" stroke-width="0.8"/>
<circle cx="334.3" cy="377.7" r="1.75" fill="#fff" stroke="#0000ff" stroke-width="0.8"/>
<circle cx="335.1" cy="379.9" r="1.75" fill="#fff" stroke="#0000ff" stroke-width="0.8"/>
<circle cx="335.9" cy="378.8" r="1.75" fill="#fff" stroke="#0000ff" stroke-width="0.8"/>
<circle cx="334.8" cy="379.0" r="1.75" fill="#fff" stroke="#0000ff" stroke-width="0.8"/>
<circle cx="335.6" cy="379.5" r="1.75" fill="#fff" stroke="#0000ff" stroke-width="0.8"/>
<circle cx="337.5" cy="382.1" r="1.75" fill="#fff" stroke="#0000ff" stroke-width="0.8"/>
<circle cx="338.9" cy="381.5" r="1.75" fill="#fff" stroke="#0000ff" stroke-width="0.8"/>
<circle cx="339.3" cy="383.0" r="1.75" fill="#fff" stroke="#0000ff" stroke-width="0.8"/>
<circle cx="338.7" cy="383.1" r="1.75" fill="#fff" stroke="#0000ff" stroke-width="0.8"/>
<circle cx="341.7" cy="383.9" r="1.75" fill="#fff" stroke="#0000ff" stroke-width="0.8"/>
<circle cx="342.2" cy="383.6" r="1.75" fill="#fff" stroke="#0000ff" stroke-width="0.8"/>
<circle cx="341.6" cy="385.0" r="1.75" fill="#fff" stroke="#0000ff" stroke-width="0.8"/>
<circle cx="342.9" cy="385.5" r="1.75" fill="#fff" stroke="#0000ff" stroke-width="0.8"/>
<circle cx="345.5" cy="384.8" r="1.75" fill="#fff" stroke="#0000ff" stroke-width="0.8"/>
<circle cx="344.9" cy="386.8" r="1.75" fill="#fff" stroke="#0000ff" stroke-width="0.8"/>
<circle cx="346.7" cy="385.0" r="1.75" fill="#fff" stroke="#0000ff" stroke-width="0.8"/>
<circle cx="346.1" cy="385.4" r="1.75" fill="#fff" stroke="#0000ff" stroke-width="0.8"/>
<circle cx="349.1" cy="387.7" r="1.75" fill="#fff" stroke="#0000ff" stroke-width="0.8"/>
<circle cx="316.5" cy="266.8" r="2.25" fill="#0000ff"/>
<circle cx="316.4" cy="266.8" r="2.25" fill="#0000ff"/>
<circle cx="316.4" cy="266.8" r="2.25" fill="#0000ff"/>
<circle cx="316.4" cy="266.8" r="2.25" fill="#0000ff"/>
<circle cx="316.2" cy="266.8" r="2.25" fill="#0000ff"/>
<circle cx="316.2" cy="267.5" r="2.25" fill="#0000ff"/>
<circle cx="315.5" cy="268.0" r="2.25" fill="#0000ff"/>
<circle cx="315.6" cy="268.2" r="2.25" fill="#0000ff"/>
<circle cx="315.9" cy="268.8" r="2.25" fill="#0000ff"/>
<circle cx="315.3" cy="269.0" r="2.25" fill="#0000ff"/>
<circle cx="316.5" cy="269.6" r="2.25" fill="#0000ff"/>
<circle cx="314.6" cy="270.4" r="2.25" fill="#0000ff"/>
<circle cx="314.4" cy="270.9" r="2.25" fill="#0000ff"/>
<circle cx="314.2" cy="271.3" r="2.25" fill="#0000ff"/>
<circle cx="316.2" cy="271.5" r="2.25" fill="#0000ff"/>
<circle cx="314.2" cy="272.1" r="2.25" fill="#0000ff"/>
<circle cx="316.1" cy="273.0" r="2.25" fill="#0000ff"/>
<circle cx="316.4" cy="273.1" r="2.25" fill="#0000ff"/>
<circle cx="315.3" cy="273.8" r="2.25" fill="#0000ff"/>
<circle cx="316.3" cy="274.1" r="2.25" fill="#0000ff"/>
<circle cx="316.3" cy="274.8" r="2.25" fill="#0000ff"/>
<circle cx="313.4" cy="275.4" r="2.25" fill="#0000ff"/>
<circle cx="312.7" cy="275.7" r="2.25" fill="#0000ff"/>
<circle cx="312.1" cy="276.1" r="2.25" fill="#0000ff"/>
<circle cx="314.5" cy="276.7" r="2.25" fill="#0000ff"/>
<circle cx="314.8" cy="277.0" r="2.25" fill="#0000ff"/>
<circle cx="312.7" cy="277.7" r="2.25" fill="#0000ff"/>
<circle cx="313.5" cy="278.4" r="2.25" fill="#0000ff"/>
<circle cx="313.4" cy="278.7" r="2.25" fill="#0000ff"/>
<circle cx="310.7" cy="279.4" r="2.25" fill="#0000ff"/>
<circle cx="310.2" cy="280.0" r="2.25" fill="#0000ff"/>
<circle cx="315.3" cy="280.4" r="2.25" fill="#0000ff"/>
<circle cx="314.9" cy="280.5" r="2.25" fill="#0000ff"/>
<circle cx="313.4" cy="281.2" r="2.25" fill="#0000ff"/>
<circle cx="309.9" cy="281.5" r="2.25" fill="#0000ff"/>
<circle cx="315.7" cy="282.1" r="2.25" fill="#0000ff"/>
<circle cx="314.3" cy="282.6" r="2.25" fill="#0000ff"/>
<circle cx="315.4" cy="283.5" r="2.25" fill="#0000ff"/>
<circle cx="311.4" cy="283.7" r="2.25" fill="#0000ff"/>
<circle cx="314.1" cy="284.3" r="2.25" fill="#0000ff"/>
<circle cx="313.8" cy="284.6" r="2.25" fill="#0000ff"/>
<circle cx="314.4" cy="285.4" r="2.25" fill="#0000ff"/>
<circle cx="315.0" cy="285.5" r="2.25" fill="#0000ff"/>
<circle cx="310.7" cy="286.0" r="2.25" fill="#0000ff"/>
<circle cx="314.6" cy="286.8" r="2.25" fill="#0000ff"/>
<circle cx="314.6" cy="287.2" r="2.25" fill="#0000ff"/>
<circle cx="310.0" cy="287.8" r="2.25" fill="#0000ff"/>
<circle cx="308.9" cy="288.2" r="2.25" fill="#0000ff"/>
<circle cx="308.6" cy="288.5" r="2.25" fill="#0000ff"/>
<circle cx="314.8" cy="289.3" r="2.25" fill="#0000ff"/>
<circle cx="307.5" cy="289.6" r="2.25" fill="#0000ff"/>
<circle cx="311.0" cy="290.5" r="2.25" fill="#0000ff"/>
<circle cx="308.6" cy="290.7" r="2.25" fill="#0000ff"/>
<circle cx="313.1" cy="291.3" r="2.25" fill="#0000ff"/>
<circle cx="309.8" cy="291.7" r="2.25" fill="#0000ff"/>
<circle cx="313.7" cy="292.0" r="2.25" fill="#0000ff"/>
<circle cx="310.2" cy="292.5" r="2.25" fill="#0000ff"/>
<circle cx="306.9" cy="293.4" r="2.25" fill="#0000ff"/>
<circle cx="313.5" cy="293.9" r="2.25" fill="#0000ff"/>
<circle cx="311.9" cy="294.3" r="2.25" fill="#0000ff"/>
<circle cx="308.9" cy="294.6" r="2.25" fill="#0000ff"/>
<circle cx="312.1" cy="295.1" r="2.25" fill="#0000ff"/>
<circle cx="308.6" cy="295.6" r="2.25" fill="#0000ff"/>
<circle cx="311.6" cy="296.5" r="2.25" fill="#0000ff"/>
<circle cx="307.9" cy="297.0" r="2.25" fill="#0000ff"/>
<circle cx="310.2" cy="297.2" r="2.25" fill="#0000ff"/>
<circle cx="306.2" cy="297.7" r="2.25" fill="#0000ff"/>
<circle cx="304.7" cy="298.2" r="2.25" fill="#0000ff"/>
<circle cx="311.9" cy="298.7" r="2.25" fill="#0000ff"/>
<circle cx="308.4" cy="299.5" r="2.25" fill="#0000ff"/>
<circle cx="305.6" cy="299.7" r="2.25" fill="#0000ff"/>
<circle cx="304.9" cy="300.0" r="2.25" fill="#0000ff"/>
<circle cx="310.0" cy="300.9" r="2.25" fill="#0000ff"/>
<circle cx="309.1" cy="301.2" r="2.25" fill="#0000ff"/>
<circle cx="308.0" cy="301.9" r="2.25" fill="#0000ff"/>
<circle cx="308.4" cy="302.3" r="2.25" fill="#0000ff"/>
<circle cx="307.7" cy="302.7" r="2.25" fill="#0000ff"/>
<circle cx="305.4" cy="303.1" r="2.25" fill="#0000ff"/>
<circle cx="307.1" cy="303.9" r="2.25" fill="#0000ff"/>
<circle cx="309.4" cy="304.1" r="2.25" fill="#0000ff"/>
<circle cx="305.6" cy="304.8" r="2.25" fill="#0000ff"/>
<circle cx="305.2" cy="305.0" r="2.25" fill="#0000ff"/>
<circle cx="306.1" cy="305.6" r="2.25" fill="#0000ff"/>
<circle cx="307.3" cy="306.2" r="2.25" fill="#0000ff"/>
<circle cx="306.9" cy="306.8" r="2.25" fill="#0000ff"/>
<circle cx="305.2" cy="307.2" r="2.25" fill="#0000ff"/>
<circle cx="306.9" cy="307.9" r="2.25" fill="#0000ff"/>
<circle cx="306.9" cy="308.2" r="2.25" fill="#0000ff"/>
<circle cx="305.2" cy="308.9" r="2.25" fill="#0000ff"/>
<circle cx="307.6" cy="309.5" r="2.25" fill="#0000ff"/>
<circle cx="303.4" cy="309.8" r="2.25" fill="#0000ff"/>
<circle cx="306.2" cy="310.1" r="2.25" fill="#0000ff"/>
<circle cx="302.7" cy="311.0" r="2.25" fill="#0000ff"/>
<circle cx="304.8" cy="311.3" r="2.25" fill="#0000ff"/>
<circle cx="299.7" cy="311.9" r="2.25" fill="#0000ff"/>
<circle cx="303.2" cy="312.4" r="2.25" fill="#0000ff"/>
<circle cx="301.7" cy="312.8" r="2.25" fill="#0000ff"/>
<circle cx="304.7" cy="313.3" r="2.25" fill="#0000ff"/>
<circle cx="304.1" cy="313.8" r="2.25" fill="#0000ff"/>
<circle cx="299.3" cy="314.0" r="2.25" fill="#0000ff"/>
<circle cx="303.2" cy="314.7" r="2.25" fill="#0000ff"/>
<circle cx="303.4" cy="315.1" r="2.25" fill="#0000ff"/>
<circle cx="298.1" cy="315.8" r="2.25" fill="#0000ff"/>
<circle cx="299.5" cy="316.2" r="2.25" fill="#0000ff"/>
<circle cx="298.7" cy="316.5" r="2.25" fill="#0000ff"/>
<circle cx="299.0" cy="317.2" r="2.25" fill="#0000ff"/>
<circle cx="297.8" cy="317.6" r="2.25" fill="#0000ff"/>
<circle cx="300.3" cy="318.2" r="2.25" fill="#0000ff"/>
<circle cx="301.7" cy="318.8" r="2.25" fill="#0000ff"/>
<circle cx="303.8" cy="319.1" r="2.25" fill="#0000ff"/>
<circle cx="300.2" cy="319.5" r="2.25" fill="#0000ff"/>
<circle cx="300.1" cy="320.1" r="2.25" fill="#0000ff"/>
<circle cx="302.8" cy="320.6" r="2.25" fill="#0000ff"/>
<circle cx="297.4" cy="321.2" r="2.25" fill="#0000ff"/>
<circle cx="297.7" cy="321.8" r="2.25" fill="#0000ff"/>
<circle cx="299.1" cy="322.3" r="2.25" fill="#0000ff"/>
<circle cx="302.8" cy="322.8" r="2.25" fill="#0000ff"/>
<circle cx="299.4" cy="323.4" r="2.25" fill="#0000ff"/>
<circle cx="300.5" cy="323.9" r="2.25" fill="#0000ff"/>
<circle cx="297.6" cy="324.2" r="2.25" fill="#0000ff"/>
<circle cx="299.8" cy="324.8" r="2.25" fill="#0000ff"/>
<circle cx="301.8" cy="325.5" r="2.25" fill="#0000ff"/>
<circle cx="298.4" cy="325.8" r="2.25" fill="#0000ff"/>
<circle cx="296.4" cy="326.4" r="2.25" fill="#0000ff"/>
<circle cx="299.3" cy="326.6" r="2.25" fill="#0000ff"/>
<circle cx="297.0" cy="327.3" r="2.25" fill="#0000ff"/>
<circle cx="300.6" cy="327.8" r="2.25" fill="#0000ff"/>
<circle cx="298.2" cy="328.2" r="2.25" fill="#0000ff"/>
<circle cx="297.5" cy="328.6" r="2.25" fill="#0000ff"/>
<circle cx="297.7" cy="329.5" r="2.25" fill="#0000ff"/>
<circle cx="299.8" cy="330.0" r="2.25" fill="#0000ff"/>
<circle cx="297.0" cy="330.3" r="2.25" fill="#0000ff"/>
<circle cx="297.8" cy="331.0" r="2.25" fill="#0000ff"/>
<circle cx="297.1" cy="331.2" r="2.25" fill="#0000ff"/>
<circle cx="297.5" cy="332.0" r="2.25" fill="#0000ff"/>
<circle cx="297.4" cy="332.1" r="2.25" fill="#0000ff"/>
<circle cx="297.8" cy="332.6" r="2.25" fill="#0000ff"/>
<circle cx="296.5" cy="333.2" r="2.25" fill="#0000ff"/>
<circle cx="298.1" cy="333.9" r="2.25" fill="#0000ff"/>
<circle cx="297.1" cy="334.0" r="2.25" fill="#0000ff"/>
<circle cx="298.2" cy="334.6" r="2.25" fill="#0000ff"/>
<circle cx="295.9" cy="335.4" r="2.25" fill="#0000ff"/>
<circle cx="295.6" cy="335.6" r="2.25" fill="#0000ff"/>
<circle cx="295.8" cy="336.5" r="2.25" fill="#0000ff"/>
<circle cx="296.3" cy="336.8" r="2.25" fill="#0000ff"/>
<circle cx="296.5" cy="337.3" r="2.25" fill="#0000ff"/>
<circle cx="295.1" cy="337.9" r="2.25" fill="#0000ff"/>
<circle cx="295.5" cy="338.4" r="2.25" fill="#0000ff"/>
<circle cx="295.5" cy="338.8" r="2.25" fill="#0000ff"/>
<circle cx="295.9" cy="339.1" r="2.25" fill="#0000ff"/>
<circle cx="295.3" cy="339.7" r="2.25" fill="#0000ff"/>
<circle cx="295.8" cy="340.4" r="2.25" fill="#0000ff"/>
<circle cx="294.9" cy="340.5" r="2.25" fill="#0000ff"/>
<circle cx="296.5" cy="341.2" r="2.25" fill="#0000ff"/>
<circle cx="295.4" cy="341.9" r="2.25" fill="#0000ff"/>
<circle cx="295.9" cy="342.0" r="2.25" fill="#0000ff"/>
<circle cx="295.3" cy="342.7" r="2.25" fill="#0000ff"/>
<circle cx="295.3" cy="343.4" r="2.25" fill="#0000ff"/>
<circle cx="295.9" cy="343.7" r="2.25" fill="#0000ff"/>
<circle cx="294.5" cy="344.2" r="2.25" fill="#0000ff"/>
<circle cx="293.9" cy="344.9" r="2.25" fill="#0000ff"/>
<circle cx="295.3" cy="345.1" r="2.25" fill="#0000ff"/>
<circle cx="295.3" cy="345.5" r="2.25" fill="#0000ff"/>
<circle cx="294.1" cy="346.3" r="2.25" fill="#0000ff"/>
<circle cx="294.9" cy="346.6" r="2.25" fill="#0000ff"/>
<circle cx="293.2" cy="347.5" r="2.25" fill="#0000ff"/>
<circle cx="294.1" cy="347.7" r="2.25" fill="#0000ff"/>
<circle cx="293.5" cy="348.2" r="2.25" fill="#0000ff"/>
<circle cx="294.0" cy="348.6" r="2.25" fill="#0000ff"/>
<circle cx="292.7" cy="349.4" r="2.25" fill="#0000ff"/>
<circle cx="294.3" cy="349.6" r="2.25" fill="#0000ff"/>
<circle cx="293.8" cy="350.4" r="2.25" fill="#0000ff"/>
<circle cx="293.9" cy="350.5" r="2.25" fill="#0000ff"/>
<circle cx="294.2" cy="351.5" r="2.25" fill="#0000ff"/>
<circle cx="292.1" cy="351.9" r="2.25" fill="#0000ff"/>
<circle cx="292.4" cy="352.4" r="2.25" fill="#0000ff"/>
<circle cx="293.9" cy="352.8" r="2.25" fill="#0000ff"/>
<circle cx="292.1" cy="353.4" r="2.25" fill="#0000ff"/>
<circle cx="293.7" cy="353.6" r="2.25" fill="#0000ff"/>
<circle cx="293.0" cy="354.1" r="2.25" fill="#0000ff"/>
<circle cx="292.0" cy="354.7" r="2.25" fill="#0000ff"/>
<circle cx="291.8" cy="355.3" r="2.25" fill="#0000ff"/>
<circle cx="292.4" cy="355.6" r="2.25" fill="#0000ff"/>
<circle cx="291.7" cy="356.0" r="2.25" fill="#0000ff"/>
<circle cx="292.9" cy="356.8" r="2.25" fill="#0000ff"/>
<circle cx="291.7" cy="357.4" r="2.25" fill="#0000ff"/>
<circle cx="292.0" cy="357.7" r="2.25" fill="#0000ff"/>
<circle cx="292.3" cy="358.3" r="2.25" fill="#0000ff"/>
<circle cx="292.0" cy="359.0" r="2.25" fill="#0000ff"/>
<circle cx="292.6" cy="359.0" r="2.25" fill="#0000ff"/>
<circle cx="292.4" cy="359.6" r="2.25" fill="#0000ff"/>
<circle cx="292.8" cy="360.3" r="2.25" fill="#0000ff"/>
<circle cx="292.2" cy="360.8" r="2.25" fill="#0000ff"/>
<circle cx="292.0" cy="361.1" r="2.25" fill="#0000ff"/>
<circle cx="292.3" cy="361.6" r="2.25" fill="#0000ff"/>
<circle cx="291.2" cy="362.3" r="2.25" fill="#0000ff"/>
<circle cx="291.6" cy="362.6" r="2.25" fill="#0000ff"/>
<circle cx="291.2" cy="363.4" r="2.25" fill="#0000ff"/>
<circle cx="291.9" cy="363.9" r="2.25" fill="#0000ff"/>
<circle cx="291.9" cy="364.0" r="2.25" fill="#0000ff"/>
<circle cx="290.9" cy="364.5" r="2.25" fill="#0000ff"/>
<circle cx="291.0" cy="365.3" r="2.25" fill="#0000ff"/>
<circle cx="291.3" cy="365.9" r="2.25" fill="#0000ff"/>
<circle cx="291.8" cy="366.2" r="2.25" fill="#0000ff"/>
<circle cx="291.6" cy="366.5" r="2.25" fill="#0000ff"/>
<circle cx="290.7" cy="367.0" r="2.25" fill="#0000ff"/>
<circle cx="291.4" cy="368.0" r="2.25" fill="#0000ff"/>
<circle cx="290.6" cy="368.1" r="2.25" fill="#0000ff"/>
<circle cx="291.2" cy="369.0" r="2.25" fill="#0000ff"/>
<circle cx="290.5" cy="369.4" r="2.25" fill="#0000ff"/>
<circle cx="290.7" cy="369.8" r="2.25" fill="#0000ff"/>
<circle cx="290.7" cy="370.1" r="2.25" fill="#0000ff"/>
<circle cx="290.6" cy="370.8" r="2.25" fill="#0000ff"/>
<circle cx="290.4" cy="371.2" r="2.25" fill="#0000ff"/>
<circle cx="290.8" cy="371.9" r="2.25" fill="#0000ff"/>
<circle cx="290.6" cy="372.4" r="2.25" fill="#0000ff"/>
<circle cx="290.6" cy="372.9" r="2.25" fill="#0000ff"/>
<circle cx="290.6" cy="373.3" r="2.25" fill="#0000ff"/>
<circle cx="290.4" cy="373.9" r="2.25" fill="#0000ff"/>
<circle cx="290.1" cy="374.0" r="2.25" fill="#0000ff"/>
<circle cx="290.1" cy="374.6" r="2.25" fill="#0000ff"/>
<circle cx="290.3" cy="375.4" r="2.25" fill="#0000ff"/>
<circle cx="290.0" cy="375.9" r="2.25" fill="#0000ff"/>
<circle cx="290.3" cy="376.2" r="2.25" fill="#0000ff"/>
<circle cx="290.1" cy="376.8" r="2.25" fill="#0000ff"/>
<circle cx="290.0" cy="377.2" r="2.25" fill="#0000ff"/>
<circle cx="290.0" cy="377.6" r="2.25" fill="#0000ff"/>
<circle cx="290.0" cy="378.2" r="2.25" fill="#0000ff"/>
<circle cx="289.9" cy="378.9" r="2.25" fill="#0000ff"/>
<circle cx="289.9" cy="379.1" r="2.25" fill="#0000ff"/>
<circle cx="289.8" cy="379.6" r="2.25" fill="#0000ff"/>
<circle cx="289.7" cy="380.1" r="2.25" fill="#0000ff"/>
<circle cx="289.7" cy="380.6" r="2.25" fill="#0000ff"/>
<circle cx="289.6" cy="381.1" r="2.25" fill="#0000ff"/>
<circle cx="289.6" cy="381.6" r="2.25" fill="#0000ff"/>
<circle cx="289.5" cy="382.2" r="2.25" fill="#0000ff"/>
<circle cx="289.5" cy="382.5" r="2.25" fill="#0000ff"/>
<circle cx="289.4" cy="383.5" r="2.25" fill="#0000ff"/>
<circle cx="289.3" cy="383.7" r="2.25" fill="#0000ff"/>
<circle cx="289.3" cy="384.5" r="2.25" fill="#0000ff"/>
<circle cx="289.2" cy="384.8" r="2.25" fill="#0000ff"/>
<circle cx="289.2" cy="385.3" r="2.25" fill="#0000ff"/>
<circle cx="289.2" cy="385.7" r="2.25" fill="#0000ff"/>
<circle cx="289.1" cy="386.5" r="2.25" fill="#0000ff"/>
<circle cx="289.1" cy="386.6" r="2.25" fill="#0000ff"/>
<circle cx="289.1" cy="387.3" r="2.25" fill="#0000ff"/>
<circle cx="289.1" cy="387.6" r="2.25" fill="#0000ff"/>
<circle cx="289.0" cy="388.3" r="2.25" fill="#0000ff"/>
<circle cx="289.0" cy="388.9" r="2.25" fill="#0000ff"/>
<circle cx="289.0" cy="389.1" r="2.25" fill="#0000ff"/>
<circle cx="289.0" cy="389.6" r="2.25" fill="#0000ff"/>
<circle cx="288.9" cy="390.0" r="2.25" fill="#0000ff"/>
<circle cx="288.9" cy="390.6" r="2.25" fill="#0000ff"/>
<circle cx="288.9" cy="391.0" r="2.25" fill="#0000ff"/>
<circle cx="288.8" cy="391.7" r="2.25" fill="#0000ff"/>
<circle cx="288.8" cy="392.2" r="2.25" fill="#0000ff"/>
<circle cx="288.8" cy="392.2" r="2.25" fill="#0000ff"/>
<circle cx="288.8" cy="392.2" r="2.25" fill="#0000ff"/>
<circle cx="288.7" cy="392.2" r="2.25" fill="#0000ff"/>
<circle cx="288.7" cy="392.2" r="2.25" fill="#0000ff"/>
<circle cx="313.9" cy="310.2" r="2.25" fill="#0000ff"/>
</g>
<text id="t30" x="391.27" y="227.33" font-size="22.79" font-family="Liberation Sans, sans-serif" text-anchor="start" font-weight="normal" font-style="normal" fill="#000" textLength="25.5" lengthAdjust="spacingAndGlyphs">(c)</text>
<rect x="471.1" y="227.6" width="212.2" height="178.7" fill="none" stroke="#686868" stroke-width="1.35"/>
<path d="M467.3 380.6 H471.1 M469.3 355.1 H471.1 M467.3 329.6 H471.1 M469.3 304.1 H471.1 M467.3 278.6 H471.1 M469.3 253.1 H471.1 M467.3 227.6 H471.1 M471.1 406.3 V410.2 M498.8 406.3 V408.3 M515.0 406.3 V408.3 M526.5 406.3 V408.3 M535.5 406.3 V408.3 M542.8 406.3 V408.3 M548.9 406.3 V408.3 M554.3 406.3 V408.3 M559.0 406.3 V408.3 M563.2 406.3 V410.2 M590.9 406.3 V408.3 M607.1 406.3 V408.3 M618.6 406.3 V408.3 M627.6 406.3 V408.3 M634.9 406.3 V408.3 M641.0 406.3 V408.3 M646.4 406.3 V408.3 M651.1 406.3 V408.3 M655.3 406.3 V410.2 M683.0 406.3 V408.3 M683.0 406.3 V408.3 " stroke="#555" stroke-width="1.3" fill="none"/>
<text id="t31" x="464.1" y="384.3" font-size="12.8" font-family="Liberation Sans, sans-serif" text-anchor="end" font-weight="bold" font-style="normal" fill="#000">70</text>
<text id="t32" x="464.1" y="333.3" font-size="12.8" font-family="Liberation Sans, sans-serif" text-anchor="end" font-weight="bold" font-style="normal" fill="#000">80</text>
<text id="t33" x="464.1" y="282.3" font-size="12.8" font-family="Liberation Sans, sans-serif" text-anchor="end" font-weight="bold" font-style="normal" fill="#000">90</text>
<text id="t34" x="464.1" y="231.29999999999998" font-size="12.8" font-family="Liberation Sans, sans-serif" text-anchor="end" font-weight="bold" font-style="normal" fill="#000">100</text>
<text id="t35" x="471.1" y="422.6" font-size="13.2" font-family="Liberation Sans, sans-serif" text-anchor="middle" font-weight="bold" font-style="normal" fill="#000">10</text>
<text id="t36" x="563.2" y="422.6" font-size="13.2" font-family="Liberation Sans, sans-serif" text-anchor="middle" font-weight="bold" font-style="normal" fill="#000">100</text>
<text id="t37" x="655.5" y="422.6" font-size="13.5" font-family="Liberation Sans, sans-serif" text-anchor="middle" font-weight="bold" font-style="normal" fill="#000">1000</text>
<text id="t38" x="438.51" y="394.63" font-size="18.98" font-family="Liberation Sans, sans-serif" text-anchor="start" font-weight="bold" font-style="normal" fill="#000" textLength="131.13" lengthAdjust="spacingAndGlyphs" transform="rotate(-90 438.51 394.63)">Accuaracy (%)</text>
<text id="t39" x="514.61" y="442.96" font-size="17.98" font-family="Liberation Sans, sans-serif" text-anchor="start" font-weight="bold" font-style="normal" fill="#000" textLength="124.8" lengthAdjust="spacingAndGlyphs">Pulse number</text>
<line x1="471.1" y1="249.3" x2="684.6" y2="249.3" stroke="#ff0000" stroke-width="1" stroke-dasharray="1 1.1"/>
<polyline points="498.8,361.4 535.5,334.1 563.2,300.4 590.9,293.1 627.6,292.4 655.3,286" fill="none" stroke="#000" stroke-width="1.6"/>
<path d="M498.8 340.3 V381.9 M494.7 340.3 H502.9 M494.7 381.9 H502.9" stroke="#000" stroke-width="1.5" fill="none"/>
<rect x="495.5" y="358.1" width="6.6" height="6.6" fill="#000"/>
<path d="M535.5 321.5 V347.2 M531.4 321.5 H539.6 M531.4 347.2 H539.6" stroke="#000" stroke-width="1.5" fill="none"/>
<rect x="532.2" y="330.8" width="6.6" height="6.6" fill="#000"/>
<path d="M563.2 293.4 V307.4 M559.1 293.4 H567.3 M559.1 307.4 H567.3" stroke="#000" stroke-width="1.5" fill="none"/>
<rect x="559.9" y="297.1" width="6.6" height="6.6" fill="#000"/>
<path d="M590.9 286.9 V299.2 M586.8 286.9 H595.0 M586.8 299.2 H595.0" stroke="#000" stroke-width="1.5" fill="none"/>
<rect x="587.6" y="289.8" width="6.6" height="6.6" fill="#000"/>
<circle cx="627.6" cy="292.4" r="4" fill="#000"/>
<circle cx="655.3" cy="286" r="4" fill="#000"/></svg>
</body></html>
